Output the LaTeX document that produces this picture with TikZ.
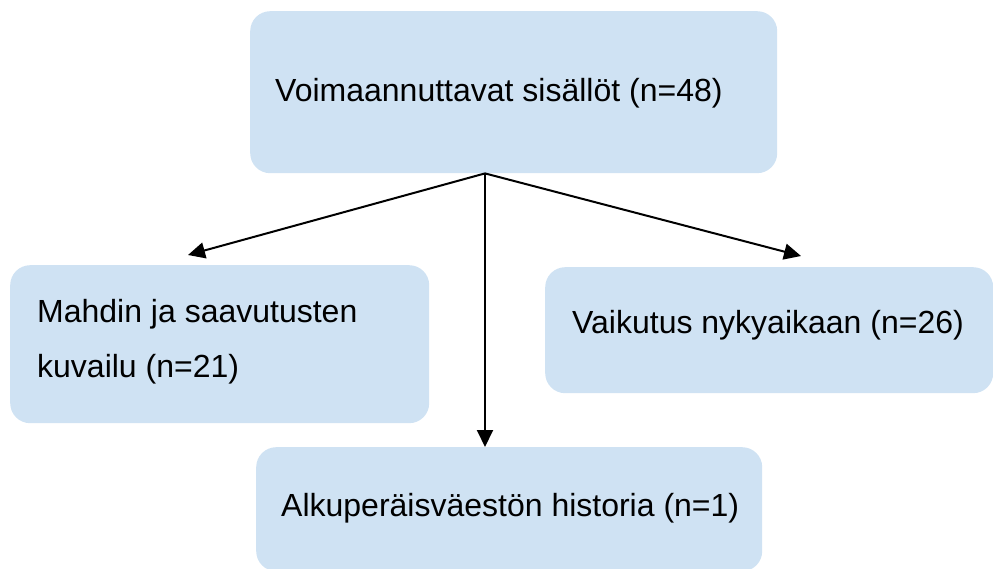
\documentclass[tikz,border=0pt]{standalone}
\usepackage{fontspec}
\setmainfont{Liberation Sans}
\definecolor{boxblue}{HTML}{CFE2F3}
\usetikzlibrary{arrows.meta,positioning,calc}

\begin{document}
\begin{tikzpicture}[x=1pt, y=-1pt,
  box/.style={fill=boxblue, rounded corners=20pt, inner sep=0pt,
              anchor=north west},
  txt/.style={anchor=base west, inner sep=0pt, align=left,
              font=\fontsize{32}{55}\selectfont},
  arr/.style={-{Triangle[length=17pt, width=16pt]}, line width=2pt, black}
]
  \useasboundingbox (0,0) rectangle (993,569);

  % boxes
  \node[box, minimum width=527pt, minimum height=162pt] (voima) at (250,11) {};
  \node[box, minimum width=419pt, minimum height=158pt] (mahti) at (10,265) {};
  \node[box, minimum width=448pt, minimum height=126pt] (vaikutus) at (545,267) {};
  \node[box, minimum width=506pt, minimum height=124pt] (historia) at (256,447) {};

  % texts (base of a two-line node is its last line)
  \node[txt] (voimatxt) at (275,102) {Voimaannuttavat sisällöt (n=48)};
  \node[txt] (mahtitxt) at (37,377) {Mahdin ja saavutusten\\kuvailu (n=21)};
  \node[txt] (vaikutustxt) at (572,333) {Vaikutus nykyaikaan (n=26)};
  \node[txt] (historiatxt) at (281,516) {Alkuperäisväestön historia (n=1)};

  % connectors
  \coordinate (hub) at (voima.south -| 485,0);
  \coordinate (mahtiend) at (188,255);
  \coordinate (vaikutusend) at (801,256);
  \draw[arr] (hub) -- (mahtiend);
  \draw[arr] (hub) -- (historia.north -| hub);
  \draw[arr] (hub) -- (vaikutusend);
\end{tikzpicture}
\end{document}
